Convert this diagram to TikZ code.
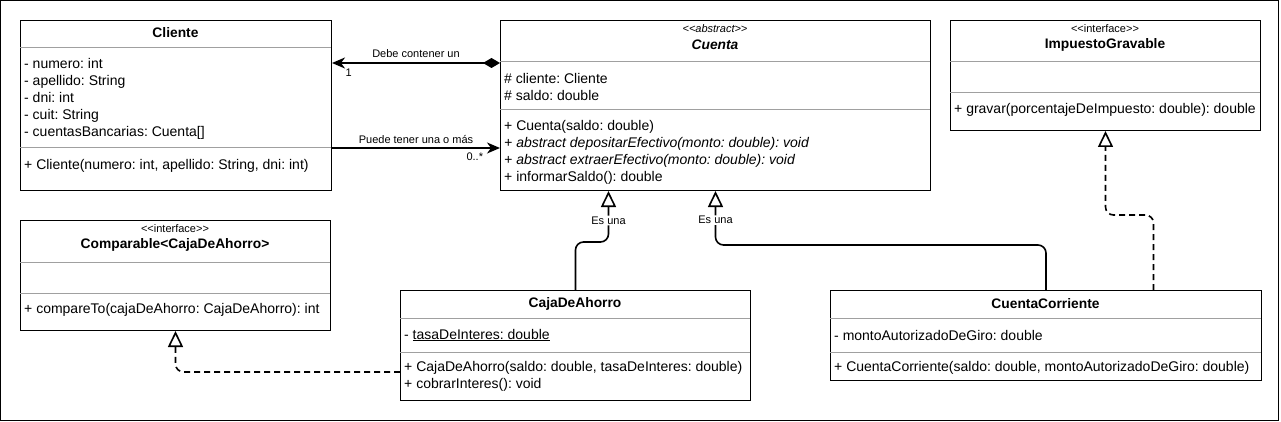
\documentclass[tikz,border=0pt]{standalone}
\usepackage{fontspec}
\setmainfont{Liberation Sans}
\usetikzlibrary{arrows.meta, calc}
\definecolor{sepgray}{RGB}{160,160,160}
\frenchspacing
\tikzset{classbox/.style = {draw, line width=1pt, anchor=north west, inner sep=0pt}}
\tikzset{sepline/.style = {sepgray, line width=1pt}}
\tikzset{classname/.style = {inner sep=0pt, font=\fontsize{13.8}{16}\selectfont\bfseries}}
\tikzset{stereo/.style = {inner sep=0pt, font=\fontsize{11}{12}\selectfont}}
\tikzset{members/.style = {anchor=west, align=left, inner sep=0pt, font=\fontsize{14}{17}\selectfont}}
\tikzset{edgetxt/.style = {inner sep=1pt, font=\fontsize{11}{12}\selectfont}}
\tikzset{link/.style = {line width=1.6pt}}
\tikzset{inherit/.style = {link, rounded corners=8pt, -{Triangle[open, length=16pt, width=15pt]}}}
\tikzset{realize/.style = {inherit, dash pattern=on 6pt off 4pt}}

\begin{document}
\begin{tikzpicture}[x=1pt, y=-1pt]
\useasboundingbox (0,0) rectangle (1281,422);
\draw [line width=1pt] (0.5,0.5) rectangle (1278.5,420.5);
% Cliente
\node [classbox, minimum width=311pt, minimum height=170pt] (cliente) at (20,20) {};
\draw [sepline] (20,48) -- (331,48);
\draw [sepline] (20,148) -- (331,148);
\node [classname] (clienteN) at (175.5,33) {Cliente};
\node [members] (clienteA) at (24,98.5) {- numero: int\\- apellido: String\\- dni: int\\- cuit: String\\- cuentasBancarias: Cuenta[]};
\node [members] (clienteM) at (24,166) {+ Cliente(numero: int, apellido: String, dni: int)};
% Cuenta
\node [classbox, minimum width=430pt, minimum height=170pt] (cuenta) at (500,20) {};
\draw [sepline] (500,62) -- (930,62);
\draw [sepline] (500,110) -- (930,110);
\node [stereo] (cuentaS) at (715,29) {\itshape <\kern0pt<abstract>\kern0pt>};
\node [classname] (cuentaN) at (715,45) {\itshape Cuenta};
\node [members] (cuentaA) at (504,87) {\# cliente: Cliente\\\# saldo: double};
\node [members] (cuentaM) at (504,152.5) {+ Cuenta(saldo: double)\\\textit{+ abstract depositarEfectivo(monto: double): void}\\\textit{+ abstract extraerEfectivo(monto: double): void}\\+ informarSaldo(): double};
% ImpuestoGravable
\node [classbox, minimum width=310pt, minimum height=110pt] (impuesto) at (950,20) {};
\draw [sepline] (950,62) -- (1260,62);
\draw [sepline] (950,93) -- (1260,93);
\node [stereo] (impuestoS) at (1105,29) {<\kern0pt<interface>\kern0pt>};
\node [classname] (impuestoN) at (1105,45) {ImpuestoGravable};
\node [members] (impuestoM) at (954,110) {+ gravar(porcentajeDeImpuesto: double): double};
% Comparable
\node [classbox, minimum width=310pt, minimum height=110pt] (comparable) at (20,220) {};
\draw [sepline] (20,262) -- (330,262);
\draw [sepline] (20,293) -- (330,293);
\node [stereo] (comparableS) at (175,229) {<\kern0pt<interface>\kern0pt>};
\node [classname] (comparableN) at (175,245) {Comparable<CajaDeAhorro>};
\node [members] (comparableM) at (24,310) {+ compareTo(cajaDeAhorro: CajaDeAhorro): int};
% CajaDeAhorro
\node [classbox, minimum width=350pt, minimum height=110pt] (caja) at (400,290) {};
\draw [sepline] (400,318) -- (750,318);
\draw [sepline] (400,352) -- (750,352);
\node [classname] (cajaN) at (575,304) {CajaDeAhorro};
\node [members] (cajaA) at (404,335) {- \underline{tasaDeInteres: double}};
\node [members] (cajaM) at (404,376.5) {+ CajaDeAhorro(saldo: double, tasaDeInteres: double)\\+ cobrarInteres(): void};
% CuentaCorriente
\node [classbox, minimum width=431pt, minimum height=90pt] (corriente) at (830,290) {};
\draw [sepline] (830,318) -- (1261,318);
\draw [sepline] (830,352) -- (1261,352);
\node [classname] (corrienteN) at (1045.5,304) {CuentaCorriente};
\node [members] (corrienteA) at (834,335) {- montoAutorizadoDeGiro: double};
\node [members] (corrienteM) at (834,368) {+ CuentaCorriente(saldo: double, montoAutorizadoDeGiro: double)};
% relaciones
\draw [link, {Stealth[length=13pt, width=11pt, inset=4pt]}-{Diamond[length=17pt, width=10pt]}] ([yshift=-43pt]cliente.north east) -- node [edgetxt, above=4pt] {Debe contener un} node [edgetxt, below=4pt, pos=0.1] {1} ([yshift=-43pt]cuenta.north west);
\draw [link, -{Stealth[length=13pt, width=11pt, inset=4pt]}] ([yshift=-128pt]cliente.north east) -- node [edgetxt, above=3pt] {Puede tener una o más} node [edgetxt, below=3pt, pos=0.85] {0..*} ([yshift=-128pt]cuenta.north west);
\draw [inherit] (caja.north) -- ++(0,-48) -| node [edgetxt, fill=white, pos=0.71] {Es una} ([xshift=-107pt]cuenta.south);
\draw [inherit] (corriente.north) -- ++(0,-45) -| node [edgetxt, fill=white, pos=0.73] {Es una} (cuenta.south);
\draw [realize] ([xshift=107.5pt]corriente.north) -- ++(0,-75) -| (impuesto.south);
\draw [realize] ([yshift=-82pt]caja.north west) -| (comparable.south);
\end{tikzpicture}
\end{document}
